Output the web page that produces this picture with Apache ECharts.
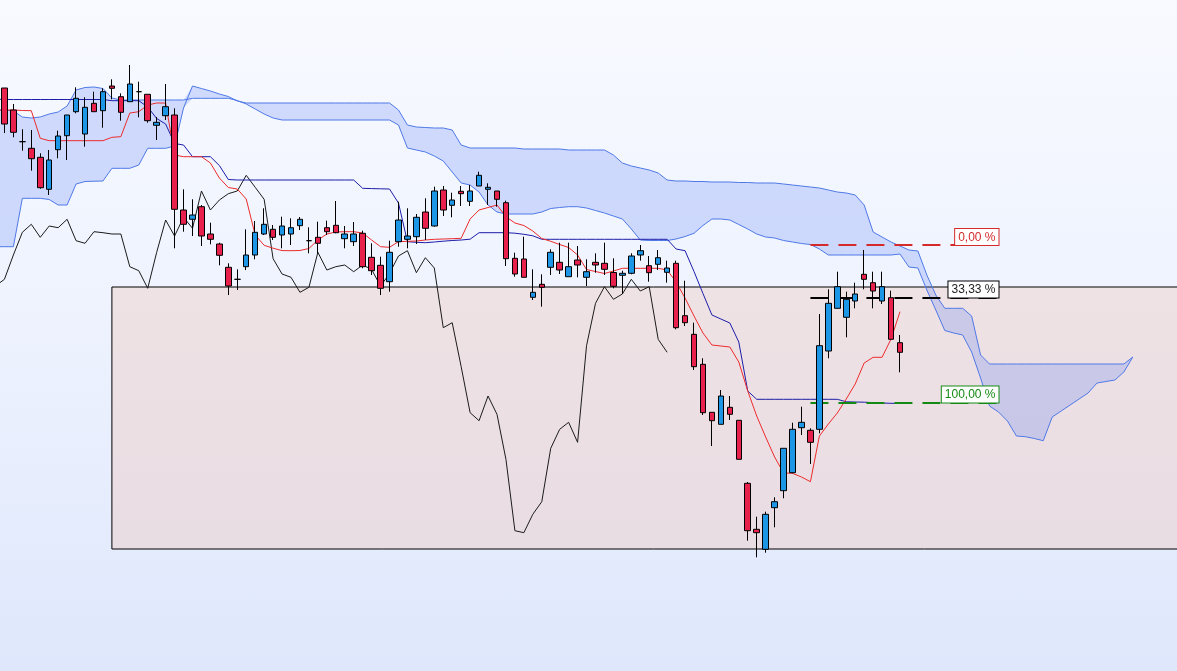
<!DOCTYPE html>
<html><head><meta charset="utf-8">
<script src="https://cdn.jsdelivr.net/npm/echarts/dist/echarts.min.js"></script>
<style>
html,body{margin:0;padding:0;width:1177px;height:671px;overflow:hidden;position:relative;
background:linear-gradient(to bottom,#f8faff 0%,#eef3fe 45%,#dfe7fc 100%);}
#c{position:absolute;left:-9.43px;top:0;width:1209px;height:671px;}
</style>
</head><body><div id="c"></div>
<script>
// ---- data (price units) ----
// candles: [open, close, low, high], index 0..100
const candles = [
[583,547,538,583],[561,538.7,533.7,567],[529.3,529.3,520.3,541.7],[522.7,512.3,500.3,541],[513.7,483.3,482.3,517.7],
[481.7,511,476,521],[521.3,535,512.7,540.3],[535.3,556,511,556],[559.3,572.7,557.7,583.7],[537,563.7,524.3,573.7],
[567.7,559.3,559.3,579.3],[560.3,579.3,543.3,582.7],[585,582.7,571.7,591.7],[574.3,558.7,550.3,577.7],[569.3,587,569.3,606],
[579.3,579.3,553.7,589.3],[576.7,550.3,548.3,576.7],[545.7,548.7,531,554],[555.3,564.3,551,587],[556,461.7,422.7,562.7],
[461,446.7,439.3,481.7],[451.7,456,435,471.7],[464.3,435,425,466],[437,431.7,426.7,448.3],[427,415.7,405.7,428.3],
[403.7,385,376,407.7],[391.7,391.7,381,401.7],[404.3,416,401,441.7],[416,438.7,411.7,450],[437,446.7,436,462.7],
[441.7,433.7,431,446],[436,445,422.7,454.3],[437,443.3,426,452.7],[445.3,451.7,441,454],[430.3,430.3,417.7,443.7],
[433.7,427.7,417.7,449.3],[443.3,439.3,436,450.3],[445.7,438.3,437.7,470],[432.3,437,422.7,445],[429.3,437,425,449],
[437.7,404.3,402.7,440.3],[413.7,400.3,396,427.7],[405.7,382.7,376,414.3],[389.3,418.7,379.3,430.3],[429.3,451,424.3,469.3],
[431.7,435,422.7,462.7],[434.3,453.7,427,457],[459,442.7,431,472.7],[445,480,444.3,484.3],[481,461,455,485],
[465.7,471,453.7,478.3],[479.7,477.3,465,485],[469.7,480,465,486],[485,495.7,485,499.3],[481.7,483.7,466,487.7],
[480,471.7,464.3,480],[468.3,412.3,405,470.3],[412.7,397,394.3,418.3],[412,393.7,393.7,434.3],[373.7,378.7,371,401.7],
[386.7,383.7,364.3,396.7],[403.7,418.7,396,421.7],[408.7,401,397,428.3],[394.3,404.3,394.3,428.3],[411,406,393.7,425],
[393.7,399.3,385,411.7],[408.7,406,398.3,417.7],[407.7,401.7,396,428.3],[398.5,384.7,382.7,412.7],[395.7,397.7,377,400.3],
[397.7,415,396.7,417.7],[416,420.3,410.3,426],[405.3,398.3,389.3,415],[406.7,413.3,401,421],[398.7,403,388.3,410.3],
[407.7,343.3,341.7,410.3],[355.3,348.3,345,390.3],[336.7,304.3,301,348.3],[306.7,258.3,256,312.7],[258.7,250.3,225,258.7],
[246.7,275,246.7,281],[263.7,256.7,251,275],[250.7,211.7,211.7,250.7],[187.7,140.3,130.3,189],[141.7,138.3,113.7,154.3],
[121.7,156.7,118.3,159.3],[163.3,169.3,143.7,173.7],[180.3,222.7,172.7,222.7],[198.3,241.7,197.7,248.3],[243.3,248.7,236,264.3],
[240.7,228.7,207,242.7],[241.7,325.3,237.7,357],[320,367.7,312.7,381.7],[362.7,384.3,362.7,399.3],[353.7,371.7,333.7,379.3],
[370,377,362.7,388.3],[396.7,391.7,381.7,421],[388.3,380,362.7,399.3],[370,384.3,367,399.3],[373.3,331.7,331.7,380.3],
[328.3,318.7,298.7,336]
];
// Tenkan-sen, index -1..100
const tenkan = [561,
561,561,560.5,560.3,532.7,530.3,530.3,530.3,530.3,530.3,
530.3,530.3,533.7,534.3,558,559.3,566,568,568,516,
514.3,514.3,514.3,508,493,483.5,482,472,436,425.7,
422.8,420.4,420.3,420.5,422.5,431,437,439,439.3,439.3,
438,431,424.3,423.7,429.3,429.7,430,431,431.7,432,
432.3,432.7,452,461,463.5,466,454.3,448,445.5,440,
432.5,429.7,426.5,423.5,416,401.5,399.5,397.5,400,402.7,
402.7,402.7,402.7,402.7,401,389,373,355,338,326,
325,324,309,280,255,234,214,198,197.7,194,
189.3,235,247,258,272,287,308,313.7,313.7,332,
359.3];
// Kijun-sen, index -1..100
const kijun = [572,
571.5,571.5,571.5,571.5,571.5,571.5,571.5,571.5,571.5,571.5,
571.5,571.5,570.3,570.3,570.3,570.3,564,552.5,547,527.5,
526,514.3,514.3,514.3,505.5,491.5,491,491,491,491,
491,491,491,491,491,491,491,491,491,491,
482.7,482.4,482.2,482,468,429.3,428.7,428.3,429,429.8,
430.5,431,431.8,438.3,438.3,438.3,438.3,437.8,436.7,435.2,
431.7,431.7,431.7,431.7,431.7,431.7,431.7,431.7,431.7,431.7,
431.7,431.7,431.7,431.7,431.7,422,420.3,399.5,377.5,356,
352,348,329,280,271.7,271.7,271.7,271.7,271.7,271.7,
271.7,271.7,271.7,271.7,269.2,269,268.8,268.4,268,267.7,
267.7];
// Senkou span A (shifted forward), index -1..126
const spanA = [424.3,
424.3,424.3,472.7,472.7,472.7,471.5,466,466,487,489.5,
489.8,490,502.7,502.7,502.7,506,522.7,522.7,522.7,525,
563,585,582.5,580,577,574.5,570,568,568,568,
568,568,568,568,568,568,568,568,568,568,
568,568,568,568,561,546,544,543.5,543,543,
541,526,523,523,523,523,523,523,522,522,
522,522,522,521,521,521,521,521,516,508,
505,503,501,498,491,490,490,489.5,489.5,489,
489,489,488.5,488.5,488,488,488,487,486,485,
484,483,481,479,478,476,466,439,434,429,
425,421,420,396,376,362.7,362.7,362.7,355,316,
307,307,307,307,307,307,307,307,307,307,
307,307,307,307,307,307,314];
// Senkou span B (shifted forward), index -1..126
const spanB = [561,
561,560,554,553,554,557,559,565,581,583.5,
584,582.5,573,571,571,571,571,571,571,571,
571,572.7,572.7,572.7,572.7,572.7,570.5,567,562,557,
553,551,551,551,551,551,551,551,551,551,
551,551,551,551,546,523,521,519,515,510,
499,488,486,479,466,459,457,457,457,457,
459,462.5,463.5,464.3,464.3,463,460.5,458,455,452,
442,431,430.5,430.5,430.5,432,434.5,437.7,445.5,452,
452,451,446.5,442,437,434,433,430.5,429,427.5,
426.5,422,416,416,416,416,416,416,416,416,
417,404,403,381,361,340.5,338,336,319,293,
265,259,250,235,234.3,232.5,230.3,254,260,266,
272,278,288,289.5,291,299,314];
// Zone box and Fibonacci levels
const zoneBox = {fromIndex: 12, top: 384, bottom: 122};
const fibLabels = ['0,00 %', '33,33 %', '100,00 %'];
const fibValues = [426, 373.5, 268.5];
const fibRange = [90, 111];

// ---- build ----
const FIRST = -1, LAST = 133, SHIFT = 26;
const cats = [];
for (let i = FIRST; i <= LAST; i++) cats.push('c' + i);
const nSlots = cats.length;
const pad = (arr) => { const a = arr.slice(); while (a.length < nSlots) a.push(null); return a; };

const candleData = candles.map((d, i) => [i - FIRST, d[0], d[1], d[2], d[3]]);
// Chikou span: closes plotted SHIFT periods back (from index -1)
const chikou = [];
for (let i = FIRST; i + SHIFT < candles.length; i++) chikou.push(candles[i + SHIFT][1]);

const cloudLow = spanA.map((a, i) => Math.min(a, spanB[i]));
const cloudBand = spanA.map((a, i) => Math.abs(a - spanB[i]));

const fibColors = ['#d42a2a', '#000000', '#148a14'];
const fibLines = fibValues.map((v, k) => [
  {coord: ['c' + fibRange[0], v],
   lineStyle: {color: fibColors[k], type: [18, 10], width: 2},
   label: {show: true, position: 'insideEndTop', distance: 0, formatter: fibLabels[k],
     color: fibColors[k] === '#000000' ? '#222' : fibColors[k], backgroundColor: '#ffffff',
     borderColor: fibColors[k], borderWidth: 1,
     padding: [2, 3, 1, 3], fontSize: 12, lineHeight: 13, fontFamily: 'Liberation Sans, Arial, sans-serif'}},
  {coord: ['c' + fibRange[1], v]}
]);

const chart = echarts.init(document.getElementById('c'), null, {renderer: 'canvas'});
chart.setOption({
  animation: false,
  backgroundColor: 'transparent',
  grid: {left: 0, top: 0, right: 0, bottom: 0},
  xAxis: {type: 'category', data: cats, show: false, boundaryGap: true},
  yAxis: {type: 'value', min: 0, max: 671, show: false},
  series: [
    {type: 'line', name: 'cloudBase', data: pad(cloudLow), stack: 'cloud', symbol: 'none',
     lineStyle: {opacity: 0}, z: 1, silent: true,
     markArea: {silent: true, itemStyle: {color: 'rgba(240,200,190,0.4)', borderColor: '#000', borderWidth: 1},
       data: [[{coord: ['c' + zoneBox.fromIndex, zoneBox.top]}, {coord: ['c' + LAST, zoneBox.bottom]}]]}},
    {type: 'line', name: 'cloud', data: pad(cloudBand), stack: 'cloud', symbol: 'none',
     lineStyle: {opacity: 0}, areaStyle: {color: 'rgba(70,110,245,0.3)'}, z: 2, silent: true},
    {type: 'line', name: 'spanA', data: pad(spanA), symbol: 'none', lineStyle: {color: '#4e78e6', width: 1}, z: 3, silent: true},
    {type: 'line', name: 'spanB', data: pad(spanB), symbol: 'none', lineStyle: {color: '#4e78e6', width: 1}, z: 3, silent: true},
    {type: 'line', name: 'chikou', data: pad(chikou), symbol: 'none', lineStyle: {color: '#1a1a1a', width: 1}, z: 4, silent: true},
    {type: 'line', name: 'kijun', data: pad(kijun), symbol: 'none', lineStyle: {color: '#1c1ca8', width: 1}, z: 4, silent: true},
    {type: 'line', name: 'tenkan', data: pad(tenkan), symbol: 'none', lineStyle: {color: '#ec2a2a', width: 1}, z: 4, silent: true},
    {type: 'candlestick', name: 'price', data: candleData, encode: {x: 0, y: [1, 2, 3, 4]},
     barWidth: 6, z: 5, silent: true,
     itemStyle: {color: '#1e96e6', color0: '#e8204c', borderColor: '#000', borderColor0: '#000', borderWidth: 1}},
    {type: 'line', name: 'fib', data: [], z: 10, silent: true,
     markLine: {silent: true, symbol: ['none', 'none'], animation: false, data: fibLines}}
  ]
});
</script></body></html>
